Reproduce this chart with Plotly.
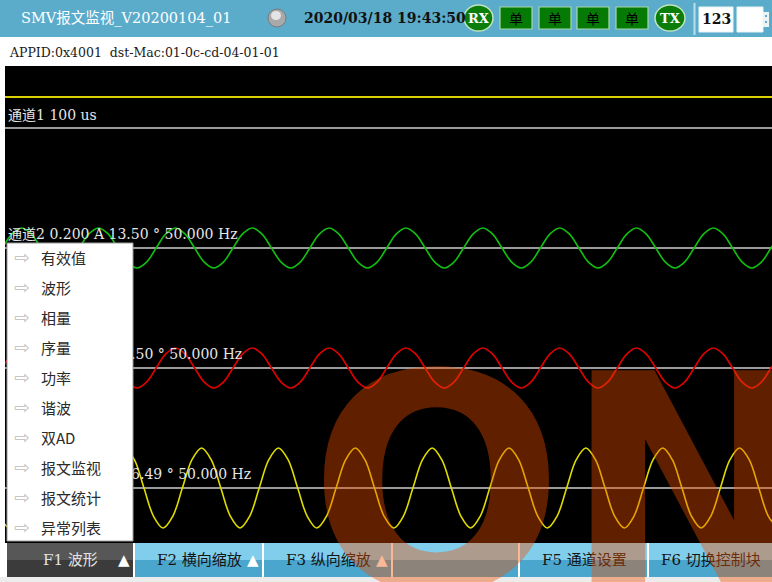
import plotly.graph_objects as go

W, H = 772, 582

# ---------------- data ----------------
time_step_ms = 2.5            # sample spacing (1/8 period of 50 Hz)
x_range_ms = [0.0, 199.6]

ch1_time = [0.0, 199.6]
ch1_values = [100.0, 100.0]   # us (flat trace)

ch2_t0 = -0.66
ch2_values = [
    0, 0.2, 0.283, 0.2, 0, -0.2, -0.283, -0.2,
    0, 0.2, 0.283, 0.2, 0, -0.2, -0.283, -0.2,
    0, 0.2, 0.283, 0.2, 0, -0.2, -0.283, -0.2,
    0, 0.2, 0.283, 0.2, 0, -0.2, -0.283, -0.2,
    0, 0.2, 0.283, 0.2, 0, -0.2, -0.283, -0.2,
    0, 0.2, 0.283, 0.2, 0, -0.2, -0.283, -0.2,
    0, 0.2, 0.283, 0.2, 0, -0.2, -0.283, -0.2,
    0, 0.2, 0.283, 0.2, 0, -0.2, -0.283, -0.2,
    0, 0.2, 0.283, 0.2, 0, -0.2, -0.283, -0.2,
    0, 0.2, 0.283, 0.2, 0, -0.2, -0.283, -0.2,
    0, 0.2,
]

ch3_t0 = -0.66
ch3_values = [
    0, 0.2, 0.283, 0.2, 0, -0.2, -0.283, -0.2,
    0, 0.2, 0.283, 0.2, 0, -0.2, -0.283, -0.2,
    0, 0.2, 0.283, 0.2, 0, -0.2, -0.283, -0.2,
    0, 0.2, 0.283, 0.2, 0, -0.2, -0.283, -0.2,
    0, 0.2, 0.283, 0.2, 0, -0.2, -0.283, -0.2,
    0, 0.2, 0.283, 0.2, 0, -0.2, -0.283, -0.2,
    0, 0.2, 0.283, 0.2, 0, -0.2, -0.283, -0.2,
    0, 0.2, 0.283, 0.2, 0, -0.2, -0.283, -0.2,
    0, 0.2, 0.283, 0.2, 0, -0.2, -0.283, -0.2,
    0, 0.2, 0.283, 0.2, 0, -0.2, -0.283, -0.2,
    0, 0.2,
]

ch4_t0 = -3.84
ch4_values = [
    0, -0.4, -0.566, -0.4, 0, 0.4, 0.566, 0.4,
    0, -0.4, -0.566, -0.4, 0, 0.4, 0.566, 0.4,
    0, -0.4, -0.566, -0.4, 0, 0.4, 0.566, 0.4,
    0, -0.4, -0.566, -0.4, 0, 0.4, 0.566, 0.4,
    0, -0.4, -0.566, -0.4, 0, 0.4, 0.566, 0.4,
    0, -0.4, -0.566, -0.4, 0, 0.4, 0.566, 0.4,
    0, -0.4, -0.566, -0.4, 0, 0.4, 0.566, 0.4,
    0, -0.4, -0.566, -0.4, 0, 0.4, 0.566, 0.4,
    0, -0.4, -0.566, -0.4, 0, 0.4, 0.566, 0.4,
    0, -0.4, -0.566, -0.4, 0, 0.4, 0.566, 0.4,
    0, -0.4, -0.566,
]

channel_labels = [
    "通道1 100 us",
    "通道2 0.200 A 13.50 ° 50.000 Hz",
    "通道3 0.200 A -13.50 ° 50.000 Hz",
    "通道4 0.400 A -106.49 ° 50.000 Hz",
]
label_offsets = [38.7, 0.17, 0.17, 0.17]
label_t = 0.8

title_text = "SMV报文监视_V20200104_01"
datetime_text = "2020/03/18 19:43:50"
info_text = "APPID:0x4001  dst-Mac:01-0c-cd-04-01-01"
status_boxes = ["单", "单", "单", "单"]
menu_items = ["有效值", "波形", "相量", "序量", "功率", "谐波", "双AD", "报文监视", "报文统计", "异常列表"]
buttons = ["F1 波形", "F2 横向缩放", "F3 纵向缩放", "", "F5 通道设置", "F6 切换控制块"]
button_has_arrow = [True, True, True, False, False, False]
watermark = "ON"

# ---------------- helpers (layout positions) ----------------
def X(px):
    return px / W

def Y(py):
    return 1 - py / H

SERIF = "DejaVu Serif, Noto Sans CJK SC"
CJK = "Noto Sans CJK SC, DejaVu Sans"

fig = go.Figure()

# waveforms
fig.add_trace(go.Scatter(x=ch1_time, y=ch1_values, mode="lines",
                         line=dict(color="#d8d000", width=2), xaxis="x", yaxis="y"))
fig.add_trace(go.Scatter(x0=ch2_t0, dx=time_step_ms, y=ch2_values, mode="lines",
                         line=dict(color="#10c010", width=1.6, shape="spline"), xaxis="x", yaxis="y2"))
fig.add_trace(go.Scatter(x0=ch3_t0, dx=time_step_ms, y=ch3_values, mode="lines",
                         line=dict(color="#e00000", width=1.6, shape="spline"), xaxis="x", yaxis="y3"))
fig.add_trace(go.Scatter(x0=ch4_t0, dx=time_step_ms, y=ch4_values, mode="lines",
                         line=dict(color="#e0dc00", width=1.6, shape="spline"), xaxis="x", yaxis="y4"))

# channel labels (as text traces so the menu can cover them)
for i, (lab, off) in enumerate(zip(channel_labels, label_offsets)):
    fig.add_trace(go.Scatter(x=[label_t], y=[off], mode="text", text=[lab], textposition="middle right",
                             textfont=dict(family=SERIF, size=14, color="#e6e6e6"),
                             cliponaxis=False, xaxis="x", yaxis="y" if i == 0 else f"y{i+1}"))

shapes = []
ann = []

def rect(x0, y0, x1, y1, fill, line=None, lw=0, layer="above"):
    shapes.append(dict(type="rect", xref="paper", yref="paper", x0=X(x0), x1=X(x1), y0=Y(y1), y1=Y(y0),
                       fillcolor=fill, line=dict(color=line or fill, width=lw), layer=layer))

def circ(x0, y0, x1, y1, fill, line=None, lw=0):
    shapes.append(dict(type="circle", xref="paper", yref="paper", x0=X(x0), x1=X(x1), y0=Y(y1), y1=Y(y0),
                       fillcolor=fill, line=dict(color=line or fill, width=lw), layer="above"))

def text(x, y, s, size, color, family=SERIF, xanchor="left", bold=False):
    ann.append(dict(xref="paper", yref="paper", x=X(x), y=Y(y), text=s, showarrow=False,
                    xanchor=xanchor, yanchor="middle",
                    font=dict(family=family, size=size, color=color, weight="bold" if bold else "normal")))

# black scope area
rect(5, 66, 772, 543, "#000000", layer="below")

# header
rect(0, 0, 772, 37, "#5babca")
text(19, 18, title_text, 14.5, "#ffffff")
circ(268, 9, 286, 27, "#a9a9a9", "#7a7a7a", 1)
circ(271, 11, 281, 20, "#e4e4e4")
text(302, 18, datetime_text, 14, "#111111", bold=True)
circ(464, 5, 493, 31, "#0b7d0b", "#bfe4bf", 1.5)
text(478.5, 18, "RX", 13, "#ffffff", xanchor="center", bold=True)
box_x = [(500, 532), (539, 571), (577, 609), (616, 648)]
for (a, b), s in zip(box_x, status_boxes):
    rect(a, 7, b, 29, "#057a05", "#a8d8a8", 1.2)
    text((a + b) / 2, 18, s, 14, "#000000", family=CJK, xanchor="center")
circ(655, 5, 685, 31, "#0b7d0b", "#bfe4bf", 1.5)
text(670, 18, "TX", 13, "#ffffff", xanchor="center", bold=True)
rect(693.5, 3, 695.5, 35, "#b8e0ee")
rect(699, 7, 733, 32, "#ffffff", "#e8f4f8", 1)
text(716, 19.5, "123", 14, "#111111", xanchor="center", bold=True)
rect(737, 7, 763, 32, "#ffffff", "#e8f4f8", 1)
rect(763, 12, 769, 27, "#eef2f4")
rect(765, 15, 767, 17, "#5babca")
rect(765, 21, 767, 23, "#5babca")

# info line
text(7, 52, info_text, 12.5, "#1a1a1a")

# popup menu
rect(7, 243, 133, 541, "#ffffff", "#9c9c9c", 1)
for i, item in enumerate(menu_items):
    yy = 257 + 30 * i
    text(12, yy, "⇨", 19, "#c6c6c6", family="DejaVu Sans")
    text(39, yy, item, 15, "#2a2a2a", family=CJK)

# bottom function keys
rect(0, 577, 772, 582, "#ececec")
btn_x = [(7, 133), (135, 262), (264, 391), (393, 518), (520, 647), (649, 772)]
for (a, b), lab, arr in zip(btn_x, buttons, button_has_arrow):
    if lab.startswith("F1"):
        rect(a, 543, b, 560, "#575757")
        rect(a, 560, b, 577, "#3b3b3b")
        col = "#e2e2e2"
    else:
        rect(a, 543, b, 560, "#80cdec")
        rect(a, 560, b, 577, "#4aa6cd")
        col = "#141414"
    if lab:
        text((a + b) / 2 + 0.5, 560, lab, 15, col, family="DejaVu Serif, Noto Sans CJK SC", xanchor="center")
    if arr:
        text(b - 9, 560, "▲", 15, "#ffffff", family="DejaVu Sans", xanchor="center")

# watermark (on top of everything)
ann.append(dict(xref="paper", yref="paper", x=X(307), y=Y(485), text=watermark, showarrow=False,
                xanchor="left", yanchor="middle",
                font=dict(family="DejaVu Sans", size=300, color="rgba(240,80,0,0.40)", weight="bold")))

yax = dict(showgrid=False, zeroline=True, zerolinecolor="#9a9a9a", zerolinewidth=2,
           showticklabels=False, ticks="", showline=False, fixedrange=True, anchor="x")
fig.update_layout(
    width=W, height=H, autosize=False,
    margin=dict(l=0, r=0, t=0, b=0),
    paper_bgcolor="#ffffff", plot_bgcolor="rgba(0,0,0,0)",
    showlegend=False,
    xaxis=dict(domain=[X(5), 1], range=x_range_ms, showgrid=False, zeroline=False,
               showticklabels=False, ticks="", showline=False, fixedrange=True),
    yaxis=dict(yax, domain=[Y(188), Y(68)], range=[-193.5, 193.5]),
    yaxis2=dict(yax, domain=[Y(308), Y(188)], range=[-0.849, 0.849]),
    yaxis3=dict(yax, domain=[Y(428), Y(308)], range=[-0.849, 0.849]),
    yaxis4=dict(yax, domain=[Y(548), Y(428)], range=[-0.849, 0.849]),
    shapes=shapes,
    annotations=ann,
)

fig.write_html("out.html", config={"displayModeBar": False},
               post_script="document.body.style.margin='0px';document.body.style.overflow='hidden';")
